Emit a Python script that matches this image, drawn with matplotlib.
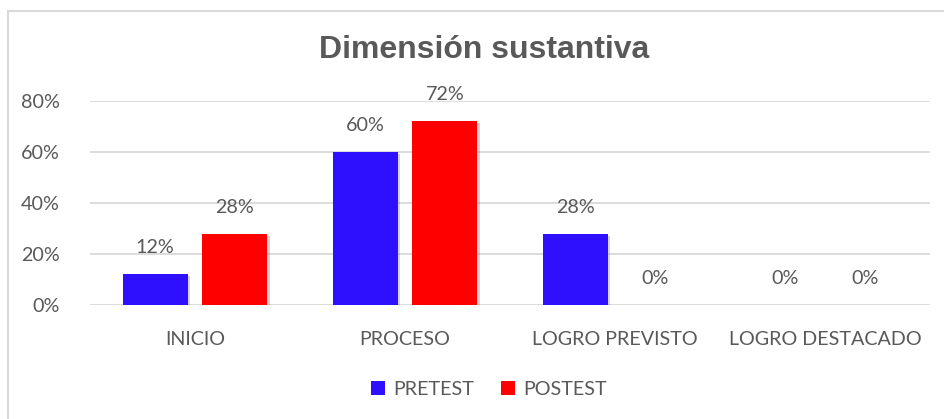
import matplotlib
matplotlib.use("Agg")
import matplotlib.pyplot as plt
import matplotlib.patheffects as pe
import numpy as np

categorias = ["INICIO", "PROCESO", "LOGRO PREVISTO", "LOGRO DESTACADO"]
pretest = [0.12, 0.60, 0.28, 0.0]
postest = [0.28, 0.72, 0.0, 0.0]
yticks = [0, 0.2, 0.4, 0.6, 0.8]

gris = "#595959"
azul = "#2E10FF"
rojo = "#FF0000"
fuente = "Lato"
tam = 14.2

fig = plt.figure(figsize=(9.45, 4.19), dpi=100)
ax = fig.add_axes([90 / 945, (419 - 305) / 419, 840 / 945, 204 / 419])

x = np.arange(len(categorias))
w = 0.31
off = 0.19
sombra = [pe.SimplePatchShadow(offset=(1.5, -1.5), shadow_rgbFace="#888888", alpha=0.35), pe.Normal()]
b1 = ax.bar(x - off, pretest, w, color=azul, label="PRETEST", zorder=3, path_effects=sombra)
b2 = ax.bar(x + off, postest, w, color=rojo, label="POSTEST", zorder=3, path_effects=sombra)

for barras, vals in ((b1, pretest), (b2, postest)):
    for b, v in zip(barras, vals):
        ax.annotate(f"{v:.0%}", (b.get_x() + b.get_width() / 2, v), xytext=(0, 13),
                    textcoords="offset points", ha="center", va="bottom",
                    fontsize=tam, color=gris, family=fuente, annotation_clip=False)

ax.set_xlim(-0.5, len(categorias) - 0.5)
ax.set_ylim(0, 0.8)
ax.set_yticks(yticks)
ax.set_yticklabels([f"{t:.0%}" for t in yticks], fontsize=tam, color=gris, family=fuente)
ax.set_xticks(x)
ax.set_xticklabels(categorias, fontsize=tam, color=gris, family=fuente)
ax.tick_params(axis="both", length=0)
ax.tick_params(axis="y", pad=22)
ax.tick_params(axis="x", pad=19)
ax.grid(axis="y", color="#D9D9D9", linewidth=1.3, zorder=0)
ax.set_axisbelow(True)
for s in ax.spines.values():
    s.set_visible(False)

fig.text(484 / 945, 1 - 50 / 419, "Dimensión sustantiva", ha="center", va="center",
         fontsize=23, fontweight="bold", color=gris, family="Liberation Sans")

leg = fig.legend(loc="center", bbox_to_anchor=(489 / 945, 1 - 389 / 419), ncol=2, frameon=False,
                 prop={"family": fuente, "size": tam}, handlelength=0.7, handleheight=0.7,
                 handletextpad=0.4, columnspacing=1.4)
for t in leg.get_texts():
    t.set_color(gris)
for h in leg.legend_handles:
    h.set_path_effects([])

# marco
fig.add_artist(plt.Rectangle((8 / 945, -0.05), 1.0, 1 - 11 / 419 + 0.05, transform=fig.transFigure,
                             fill=False, edgecolor="#D9D9D9", linewidth=1.5))

fig.savefig("out.png", dpi=100)
